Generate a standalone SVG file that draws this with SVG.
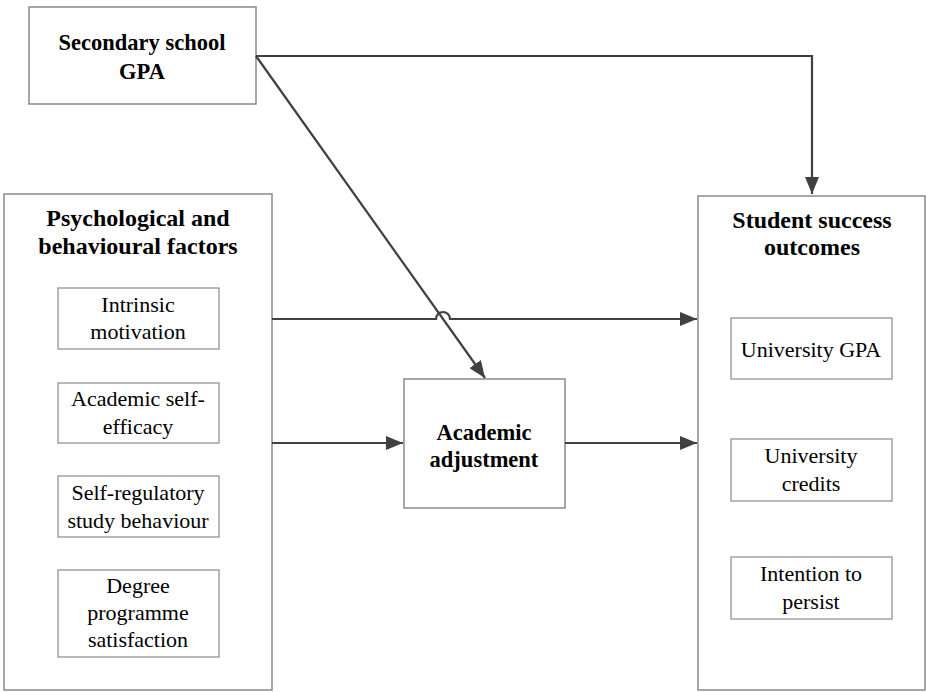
<svg xmlns="http://www.w3.org/2000/svg" width="927" height="692" viewBox="0 0 927 692">
<defs>
<marker id="ah" markerUnits="userSpaceOnUse" markerWidth="18" markerHeight="14" refX="17" refY="7" orient="auto">
<path d="M0,0 L17,7 L0,14 Z" fill="#404040"/>
</marker>
</defs>
<g font-family="Liberation Serif, Times New Roman, serif" text-anchor="middle" fill="#000">
<g id="secondary">
<rect fill="#fff" stroke="#8a8a8a" stroke-width="1.5" x="29" y="7" width="227" height="97"/>
<text font-weight="bold" font-size="22.5" x="142" y="50">Secondary school</text>
<text font-weight="bold" font-size="22.5" x="142" y="79">GPA</text>
</g>
<g id="psych">
<rect fill="#fff" stroke="#8a8a8a" stroke-width="1.5" x="4" y="194" width="268" height="496"/>
<text font-weight="bold" font-size="24" x="138" y="226">Psychological and</text>
<text font-weight="bold" font-size="24" x="138" y="254">behavioural factors</text>
<g id="intrinsic" font-size="22">
<rect fill="#fff" stroke="#8a8a8a" stroke-width="1.2" x="58" y="288" width="161" height="61"/>
<text x="138" y="312">Intrinsic</text>
<text x="138" y="339">motivation</text>
</g>
<g id="selfefficacy" font-size="22">
<rect fill="#fff" stroke="#8a8a8a" stroke-width="1.2" x="58" y="383" width="161" height="60"/>
<text x="138" y="406">Academic self-</text>
<text x="138" y="434">efficacy</text>
</g>
<g id="selfreg" font-size="22">
<rect fill="#fff" stroke="#8a8a8a" stroke-width="1.2" x="58" y="476" width="161" height="61"/>
<text x="138" y="500">Self-regulatory</text>
<text x="138" y="528">study behaviour</text>
</g>
<g id="degree" font-size="22">
<rect fill="#fff" stroke="#8a8a8a" stroke-width="1.2" x="58" y="570" width="161" height="87"/>
<text x="138" y="593">Degree</text>
<text x="138" y="620">programme</text>
<text x="138" y="647">satisfaction</text>
</g>
</g>
<g id="adjustment">
<rect fill="#fff" stroke="#8a8a8a" stroke-width="1.5" x="404" y="379" width="161" height="129"/>
<text font-weight="bold" font-size="22.5" x="484" y="440">Academic</text>
<text font-weight="bold" font-size="22.5" x="484" y="467">adjustment</text>
</g>
<g id="outcomes">
<rect fill="#fff" stroke="#8a8a8a" stroke-width="1.5" x="698" y="196" width="227" height="494"/>
<text font-weight="bold" font-size="24" x="812" y="228">Student success</text>
<text font-weight="bold" font-size="24" x="812" y="255">outcomes</text>
<g id="ugpa" font-size="22">
<rect fill="#fff" stroke="#8a8a8a" stroke-width="1.2" x="731" y="318" width="161" height="61"/>
<text x="811" y="357">University GPA</text>
</g>
<g id="ucredits" font-size="22">
<rect fill="#fff" stroke="#8a8a8a" stroke-width="1.2" x="731" y="439" width="161" height="62"/>
<text x="811" y="463">University</text>
<text x="811" y="491">credits</text>
</g>
<g id="persist" font-size="22">
<rect fill="#fff" stroke="#8a8a8a" stroke-width="1.2" x="731" y="557" width="161" height="62"/>
<text x="811" y="581">Intention to</text>
<text x="811" y="609">persist</text>
</g>
</g>
</g>
<g id="connectors" fill="none" stroke="#404040" stroke-width="2.2">
<path d="M256,56 H812 V194" marker-end="url(#ah)"/>
<path d="M256,56 L485,378" marker-end="url(#ah)"/>
<path d="M272,319 H436 A7,7 0 0 1 450,319 H697" marker-end="url(#ah)"/>
<path d="M272,443 H403" marker-end="url(#ah)"/>
<path d="M565,443 H697" marker-end="url(#ah)"/>
</g>
</svg>
